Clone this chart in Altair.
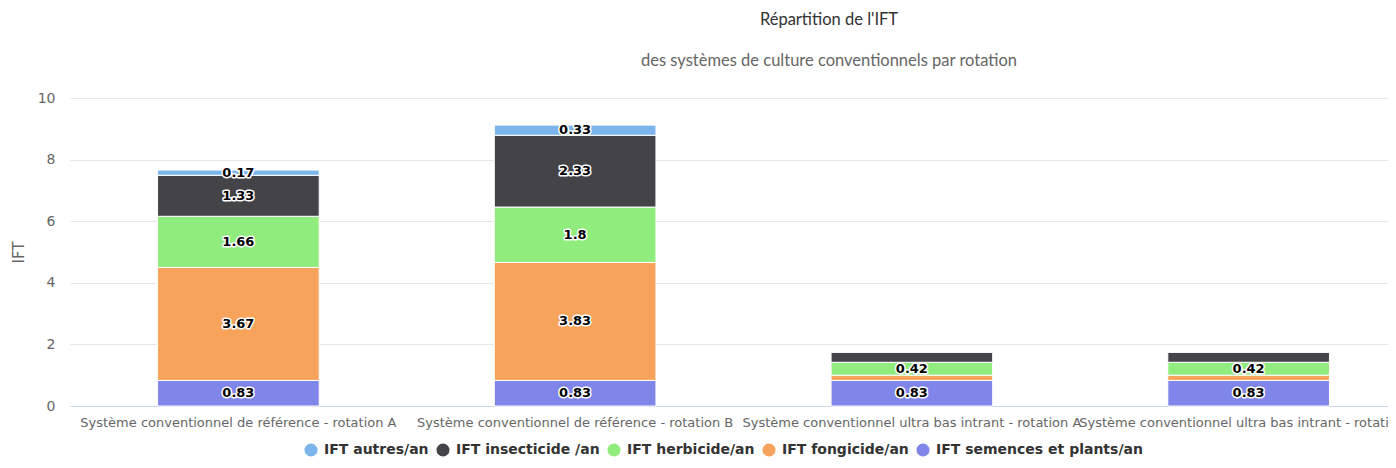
import altair as alt
import pandas as pd

categories = [
    "Système conventionnel de référence - rotation A",
    "Système conventionnel de référence - rotation B",
    "Système conventionnel ultra bas intrant - rotation A",
    "Système conventionnel ultra bas intrant - rotation B",
]
series = [
    "IFT semences et plants/an",
    "IFT fongicide/an",
    "IFT herbicide/an",
    "IFT insecticide /an",
    "IFT autres/an",
]
semences = [0.83, 0.83, 0.83, 0.83]
fongicide = [3.67, 3.83, 0.17, 0.17]
herbicide = [1.66, 1.8, 0.42, 0.42]
insecticide = [1.33, 2.33, 0.33, 0.33]
autres = [0.17, 0.33, 0, 0]

legend_order = [
    "IFT autres/an",
    "IFT insecticide /an",
    "IFT herbicide/an",
    "IFT fongicide/an",
    "IFT semences et plants/an",
]
legend_colors = ["#7cb5ec", "#434348", "#90ed7d", "#f7a35c", "#8085e9"]

values_by_series = [semences, fongicide, herbicide, insecticide, autres]
rows = []
for rank, (s, vals) in enumerate(zip(series, values_by_series)):
    for c, v in zip(categories, vals):
        rows.append({"cat": c, "serie": s, "value": v, "rank": rank})
df = pd.DataFrame(rows)

base = alt.Chart(df).transform_stack(
    stack="value",
    groupby=["cat"],
    sort=[alt.SortField("rank", order="ascending")],
    as_=["y0", "y1"],
).transform_calculate(ymid="(datum.y0 + datum.y1) / 2")

x_enc = alt.X(
    "cat:N",
    sort=categories,
    scale=alt.Scale(range=[0, 1347], paddingInner=0.52, paddingOuter=0.26),
    axis=alt.Axis(
        title=None,
        domainColor="#ccd6eb",
        ticks=False,
        grid=False,
        labelFont="DejaVu Sans",
        labelFontSize=13,
        labelColor="#666666",
        labelAngle=0,
        labelOverlap=False,
        labelLimit=0,
        labelPadding=10,
    ),
)

bars = base.mark_bar(stroke="white", strokeWidth=1).encode(
    x=x_enc,
    y=alt.Y(
        "y0:Q",
        scale=alt.Scale(domain=[0, 10], nice=False),
        axis=alt.Axis(
            values=[0, 2, 4, 6, 8, 10],
            grid=True,
            gridColor="#e6e6e6",
            domain=False,
            ticks=False,
            labelFont="DejaVu Sans",
            labelFontSize=14,
            labelColor="#666666",
            labelPadding=15,
            title="IFT",
            titleFont="DejaVu Sans",
            titleFontSize=15,
            titleFontWeight="normal",
            titleColor="#666666",
            titlePadding=11,
        ),
    ),
    y2="y1:Q",
    color=alt.Color(
        "serie:N",
        scale=alt.Scale(domain=legend_order, range=legend_colors),
        legend=alt.Legend(
            title=None,
            orient="none",
            legendX=234,
            legendY=345,
            direction="horizontal",
            columns=5,
            symbolType="circle",
            symbolSize=170,
            symbolStrokeWidth=0,
            labelFont="DejaVu Sans",
            labelFontSize=14,
            labelFontWeight="bold",
            labelColor="#333333",
            labelOffset=6,
            labelLimit=0,
            columnPadding=7,
        ),
    ),
)

labels_base = base.transform_filter(
    "datum.value > 0 && (datum.value >= 0.4 || datum.serie == 'IFT autres/an')"
)

outline = labels_base.mark_text(
    font="DejaVu Sans",
    fontSize=13,
    fontWeight="bold",
    color="white",
    stroke="white",
    strokeWidth=3,
    strokeJoin="round",
).encode(x=alt.X("cat:N", sort=categories), y="ymid:Q", text="value:Q")

text = labels_base.mark_text(
    font="DejaVu Sans",
    fontSize=13,
    fontWeight="bold",
    color="black",
).encode(x=alt.X("cat:N", sort=categories), y="ymid:Q", text="value:Q")

chart = (
    alt.layer(bars, outline, text)
    .properties(
        width=1318,
        height=308,
        autosize="none",
        padding={"left": 62, "top": 90, "right": 0, "bottom": 54},
        title=alt.TitleParams(
            text="Répartition de l'IFT",
            subtitle="des systèmes de culture conventionnels par rotation",
            anchor="middle",
            frame="group",
            dx=100,
            offset=22,
            font="Lato",
            fontSize=16.5,
            fontWeight="normal",
            color="#333333",
            subtitleFont="Lato",
            subtitleFontSize=16.5,
            subtitleColor="#666666",
            subtitlePadding=24,
        ),
    )
    .configure_view(stroke=None)
)

chart.save("out.html", embed_options={"renderer": "svg", "actions": False})
